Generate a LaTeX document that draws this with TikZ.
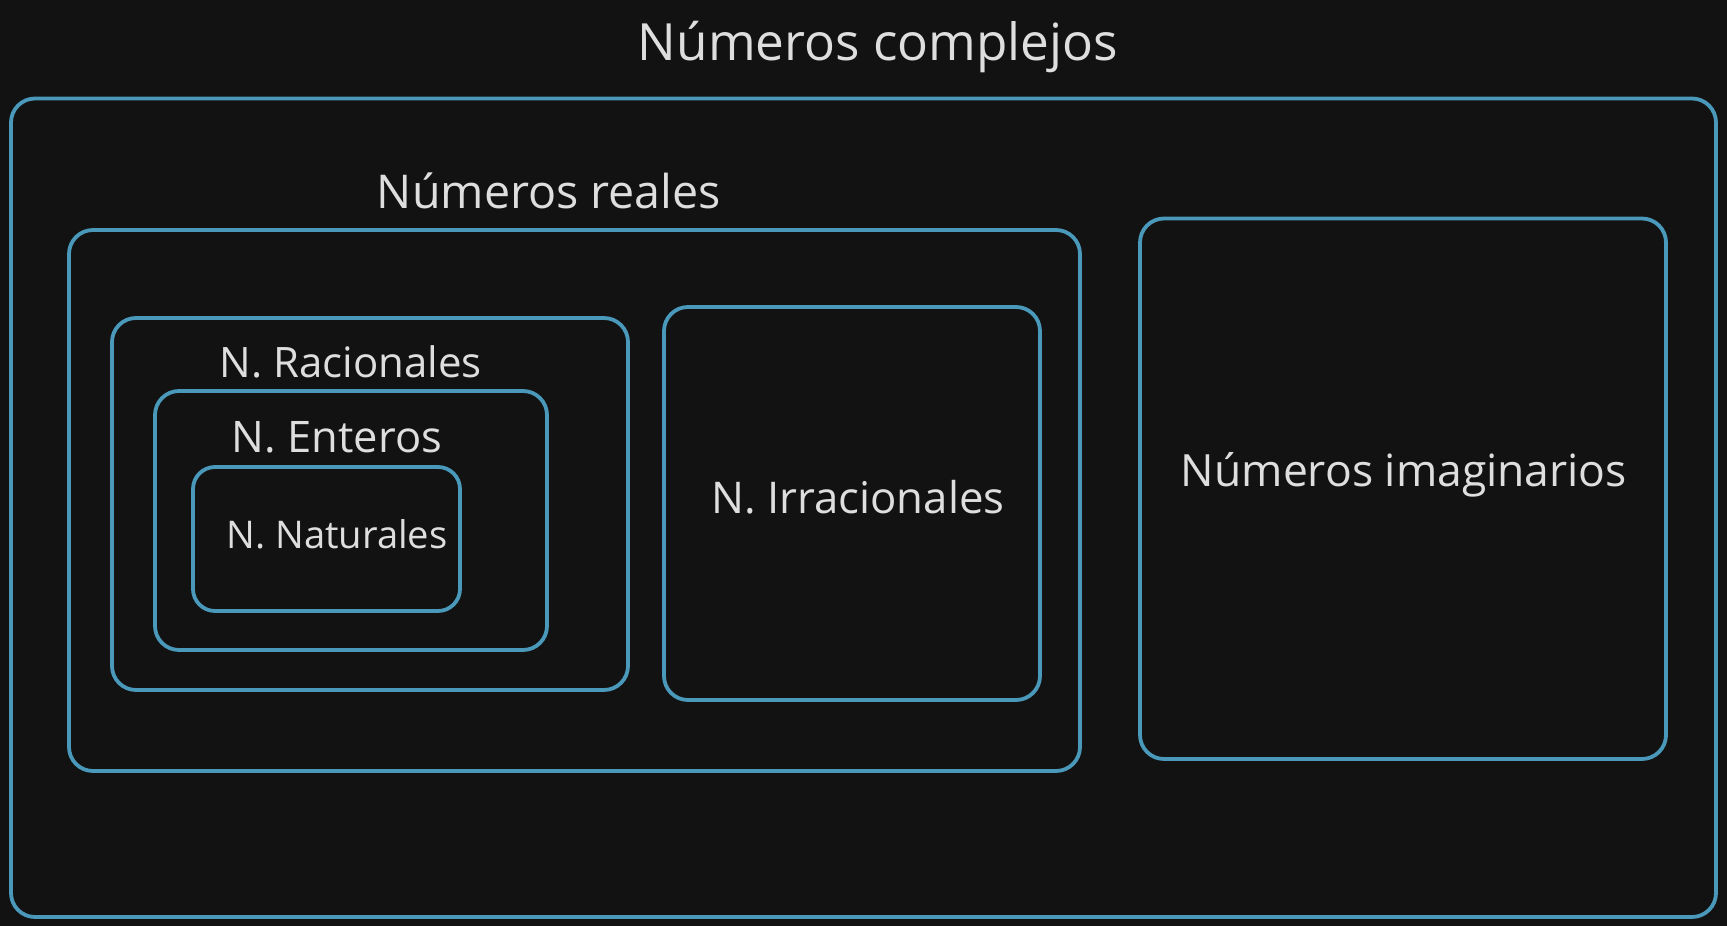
\documentclass[tikz,border=0pt]{standalone}
\usepackage{fontspec}
\setmainfont{Open Sans}
\usepackage{graphicx}
\definecolor{bg}{HTML}{121212}
\definecolor{edge}{HTML}{4A98BA}
\definecolor{ink}{HTML}{DEDEDE}
\newcommand{\fitw}[2]{\resizebox{#1pt}{!}{#2}}
\begin{document}
\begin{tikzpicture}[x=1pt,y=-1pt,
  setbox/.style={draw=edge, line width=3.8pt, rounded corners=24pt, rectangle, inner sep=0pt},
  lbl/.style={text=ink, inner sep=0pt, anchor=base}]
\fill[bg] (0,0) rectangle (1727,926);
\useasboundingbox (0,0) rectangle (1727,926);
% boxes
\node[setbox, minimum width=1705pt, minimum height=818.5pt] (complejos) at (863.5,507.75) {};
\node[setbox, minimum width=1011pt, minimum height=541pt] (reales) at (574.5,500.5) {};
\node[setbox, minimum width=526pt, minimum height=540.5pt] (imag) at (1403,488.75) {};
\node[setbox, minimum width=376pt, minimum height=393pt] (irr) at (852,503.5) {};
\node[setbox, minimum width=516pt, minimum height=372pt] (rac) at (370,504) {};
\node[setbox, minimum width=392pt, minimum height=259pt] (ent) at (351,520.5) {};
\node[setbox, minimum width=267pt, minimum height=144pt, rounded corners=22pt] (nat) at (326.5,539) {};
% labels
\node[lbl] (tcomplejos) at (878,60) {\fitw{480}{Números complejos}};
\node[lbl] (treales) at (549,208) {\fitw{344}{Números reales}};
\node[lbl] (trac) at (351,377) {\fitw{262}{N. Racionales}};
\node[lbl] (tent) at (337,452) {\fitw{210}{N. Enteros}};
\node[lbl] (tnat) at (337,548) {\fitw{221}{N. Naturales}};
\node[lbl] (tirr) at (858,513) {\fitw{293}{N. Irracionales}};
\node[lbl] (timag) at (1404,486) {\fitw{446}{Números imaginarios}};
\end{tikzpicture}
\end{document}
